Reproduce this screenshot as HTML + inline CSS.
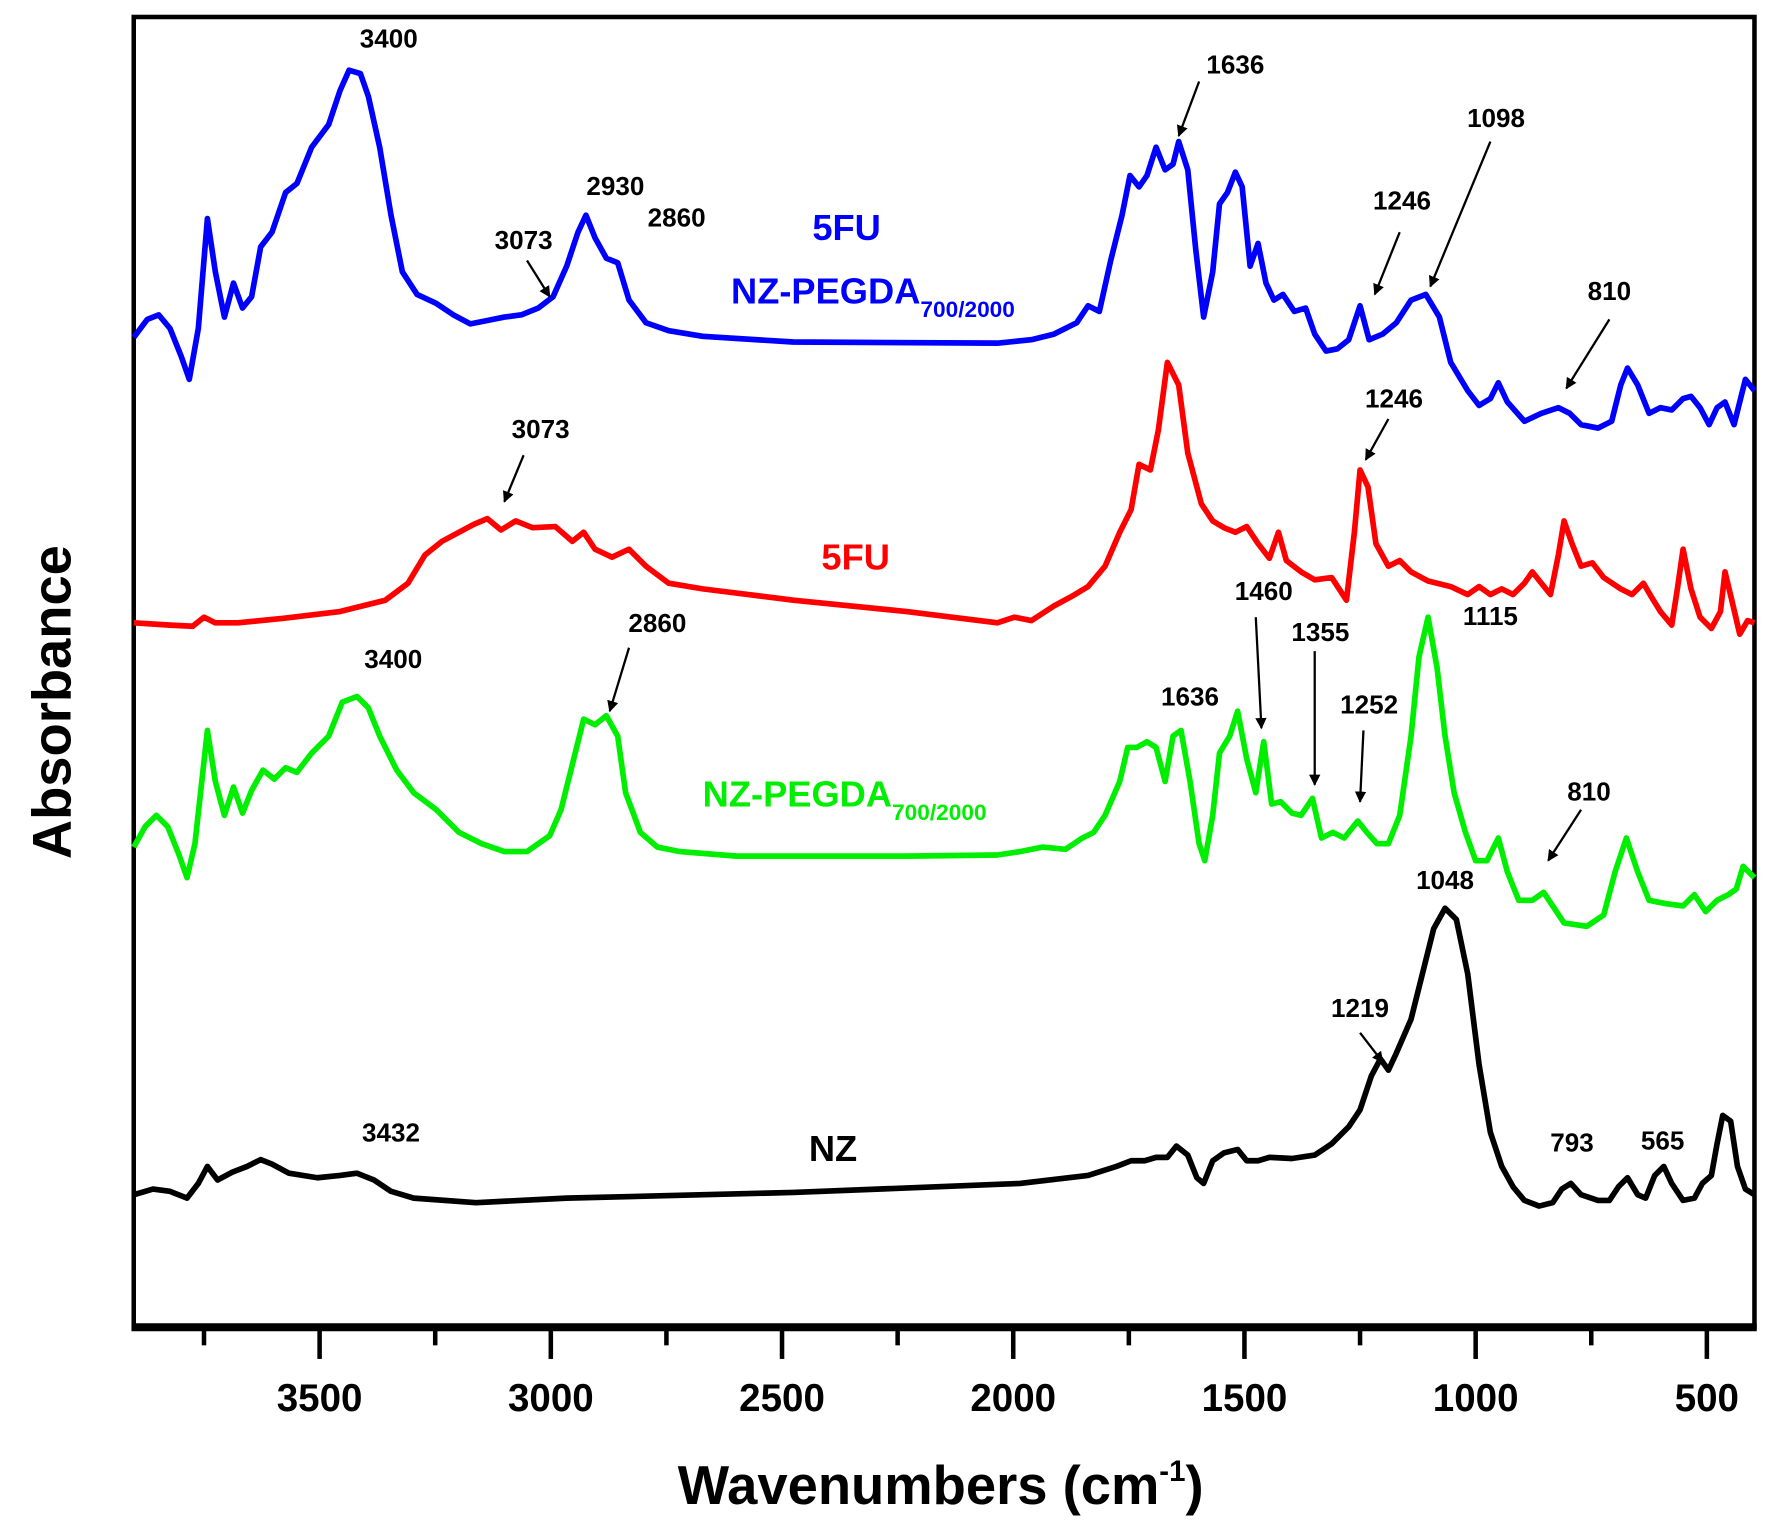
<!DOCTYPE html>
<html><head><meta charset="utf-8"><style>html,body{margin:0;padding:0;background:#fff}svg{display:block}</style></head>
<body>
<svg width="1776" height="1539" viewBox="0 0 1567 1359" preserveAspectRatio="none" xmlns="http://www.w3.org/2000/svg" font-family="Liberation Sans, Arial, sans-serif" font-weight="bold">
<defs><marker id="ah" markerWidth="10" markerHeight="10" refX="9" refY="5" orient="auto" markerUnits="userSpaceOnUse"><path d="M0,0 L10,5 L0,10 z" fill="#000"/></marker></defs>
<rect width="1567" height="1359" fill="#fff"/>
<rect x="118" y="15" width="1430" height="1157" fill="none" stroke="#000" stroke-width="4"/>
<line x1="116" y1="1172" x2="1550" y2="1172" stroke="#000" stroke-width="7"/>
<g stroke="#000" stroke-width="4">
<line x1="282" y1="1172" x2="282" y2="1200"/><line x1="486" y1="1172" x2="486" y2="1200"/><line x1="690" y1="1172" x2="690" y2="1200"/><line x1="894" y1="1172" x2="894" y2="1200"/><line x1="1098" y1="1172" x2="1098" y2="1200"/><line x1="1302" y1="1172" x2="1302" y2="1200"/><line x1="1506" y1="1172" x2="1506" y2="1200"/>
<line x1="180" y1="1172" x2="180" y2="1188"/><line x1="384" y1="1172" x2="384" y2="1188"/><line x1="588" y1="1172" x2="588" y2="1188"/><line x1="792" y1="1172" x2="792" y2="1188"/><line x1="996" y1="1172" x2="996" y2="1188"/><line x1="1200" y1="1172" x2="1200" y2="1188"/><line x1="1404" y1="1172" x2="1404" y2="1188"/>
</g>
<g font-size="34" text-anchor="middle">
<text x="282" y="1246">3500</text><text x="486" y="1246">3000</text><text x="690" y="1246">2500</text><text x="894" y="1246">2000</text><text x="1098" y="1246">1500</text><text x="1302" y="1246">1000</text><text x="1506" y="1246">500</text>
</g>
<text x="830" y="1328" font-size="48" text-anchor="middle">Wavenumbers (cm<tspan dy="-20" font-size="26">-1</tspan><tspan dy="20">)</tspan></text>
<text transform="translate(62,620) rotate(-90)" font-size="48" text-anchor="middle">Absorbance</text>
<g fill="none" stroke-width="5" stroke-linejoin="round">
<polyline stroke="#0000ff" points="118,298 130,282 140,278 150,290 160,315 167,335 175,290 183,193 190,240 198,280 206,250 214,272 222,262 230,218 240,205 252,170 262,162 275,130 290,110 300,80 308,62 318,65 325,85 335,130 345,190 355,240 368,260 385,268 400,278 415,286 430,283 445,280 460,278 475,272 488,262 500,235 510,205 517,190 525,210 535,228 545,232 555,265 570,285 590,292 620,297 700,302 880,303 910,300 930,295 950,285 960,270 970,275 980,230 990,190 997,155 1005,165 1012,155 1020,130 1028,150 1035,145 1040,125 1048,150 1055,220 1062,280 1070,240 1076,180 1083,170 1090,152 1096,165 1103,235 1110,215 1117,250 1124,265 1132,260 1142,275 1152,272 1160,295 1170,310 1180,308 1190,300 1200,270 1208,300 1220,295 1232,285 1245,265 1258,260 1270,280 1280,320 1295,345 1305,358 1315,352 1322,338 1330,355 1345,372 1360,365 1375,360 1385,365 1395,375 1410,378 1422,372 1430,340 1436,325 1445,340 1455,365 1465,360 1475,362 1485,352 1492,350 1500,360 1508,375 1515,360 1522,355 1530,375 1540,335 1548,345"/>
<polyline stroke="#ff0000" points="118,550 150,552 170,553 180,545 190,550 210,550 250,546 300,540 340,530 360,515 375,490 390,478 405,470 418,463 430,458 442,468 455,460 470,466 490,465 505,478 515,470 525,485 540,492 555,485 570,500 590,515 620,520 700,530 800,540 880,550 895,545 910,548 930,535 945,527 960,518 975,500 988,470 998,450 1005,410 1015,415 1022,380 1030,320 1040,340 1048,400 1060,445 1070,460 1080,466 1090,470 1100,465 1110,480 1120,493 1128,470 1135,495 1148,505 1160,512 1175,510 1188,530 1195,470 1200,415 1207,430 1214,480 1225,500 1235,495 1245,505 1260,513 1280,518 1295,525 1305,518 1315,525 1325,520 1335,525 1345,515 1352,505 1360,515 1368,525 1375,490 1380,460 1387,480 1395,500 1405,497 1415,510 1430,520 1440,525 1450,515 1457,527 1465,540 1475,552 1480,520 1485,485 1492,520 1500,545 1510,555 1518,540 1522,505 1528,530 1535,560 1542,548 1548,550"/>
<polyline stroke="#00ee00" points="118,748 128,730 138,720 148,730 158,755 165,775 172,745 183,645 190,690 198,720 206,695 214,718 222,698 232,680 242,688 252,678 262,682 275,665 290,650 302,620 315,615 325,625 335,650 350,680 365,700 385,715 405,735 425,745 445,752 465,752 485,738 495,715 505,675 515,635 525,640 535,632 545,650 552,700 565,735 580,748 600,752 650,756 800,756 880,755 900,752 920,748 940,750 955,740 965,735 975,720 988,690 995,660 1003,660 1012,655 1020,660 1028,690 1035,650 1042,645 1050,690 1058,745 1063,760 1070,720 1076,665 1085,650 1092,628 1100,670 1108,700 1115,655 1122,710 1130,708 1140,718 1148,720 1158,705 1166,740 1176,735 1186,740 1198,725 1206,735 1215,745 1225,745 1235,720 1245,650 1252,580 1260,545 1268,590 1275,650 1283,700 1293,735 1302,760 1312,760 1322,740 1330,770 1340,795 1352,795 1362,788 1370,800 1380,815 1400,818 1415,808 1425,770 1435,740 1445,770 1455,795 1470,798 1485,800 1495,790 1505,805 1515,795 1525,790 1532,785 1538,765 1548,775"/>
<polyline stroke="#000" points="118,1055 135,1050 150,1052 165,1058 175,1045 183,1030 192,1042 205,1035 218,1030 230,1024 240,1028 255,1036 280,1040 300,1038 315,1036 330,1042 345,1052 365,1058 420,1062 500,1058 700,1053 900,1045 960,1038 985,1030 998,1025 1010,1025 1020,1022 1030,1022 1038,1012 1048,1020 1056,1040 1062,1045 1070,1025 1080,1018 1092,1015 1100,1025 1110,1025 1120,1022 1140,1023 1160,1020 1175,1010 1190,995 1200,980 1210,950 1218,935 1225,945 1232,930 1245,900 1255,860 1265,820 1275,802 1285,812 1295,860 1305,940 1315,1000 1325,1030 1335,1048 1345,1060 1358,1065 1370,1062 1378,1050 1386,1045 1395,1055 1410,1060 1420,1060 1428,1048 1436,1040 1445,1055 1452,1058 1460,1038 1468,1030 1475,1045 1485,1060 1495,1058 1502,1045 1510,1038 1515,1010 1520,985 1527,990 1533,1030 1540,1050 1548,1055"/>
</g>
<g stroke="#000" stroke-width="2" marker-end="url(#ah)">
<line x1="465" y1="230" x2="485" y2="262"/><line x1="1058" y1="72" x2="1040" y2="120"/><line x1="1315" y1="125" x2="1262" y2="253"/><line x1="1235" y1="205" x2="1213" y2="260"/><line x1="1420" y1="282" x2="1382" y2="343"/><line x1="462" y1="402" x2="445" y2="443"/><line x1="1225" y1="370" x2="1205" y2="406"/><line x1="555" y1="572" x2="538" y2="628"/><line x1="1108" y1="545" x2="1113" y2="643"/><line x1="1160" y1="575" x2="1160" y2="693"/><line x1="1203" y1="645" x2="1200" y2="708"/><line x1="1395" y1="715" x2="1366" y2="760"/><line x1="1200" y1="912" x2="1220" y2="938"/>
</g>
<g font-size="23" text-anchor="middle">
<text x="343" y="42">3400</text><text x="1090" y="65">1636</text><text x="1320" y="112">1098</text><text x="1237" y="185">1246</text><text x="543" y="172">2930</text><text x="597" y="200">2860</text><text x="462" y="220">3073</text><text x="1420" y="265">810</text>
<text x="477" y="387">3073</text><text x="1230" y="360">1246</text>
<text x="580" y="558">2860</text><text x="347" y="590">3400</text><text x="1050" y="623">1636</text><text x="1115" y="530">1460</text><text x="1165" y="566">1355</text><text x="1208" y="630">1252</text><text x="1315" y="552">1115</text><text x="1402" y="707">810</text>
<text x="1275" y="785">1048</text><text x="1200" y="898">1219</text><text x="345" y="1008">3432</text><text x="1387" y="1017">793</text><text x="1467" y="1015">565</text>
</g>
<g font-size="32">
<text x="747" y="212" fill="#0000ff" text-anchor="middle">5FU</text>
<text x="645" y="268" fill="#0000ff">NZ-PEGDA<tspan dy="12" font-size="20">700/2000</tspan></text>
<text x="755" y="503" fill="#ff0000" text-anchor="middle">5FU</text>
<text x="620" y="712" fill="#00ee00">NZ-PEGDA<tspan dy="12" font-size="20">700/2000</tspan></text>
<text x="735" y="1025" fill="#000" text-anchor="middle">NZ</text>
</g>
</svg>
</body></html>
